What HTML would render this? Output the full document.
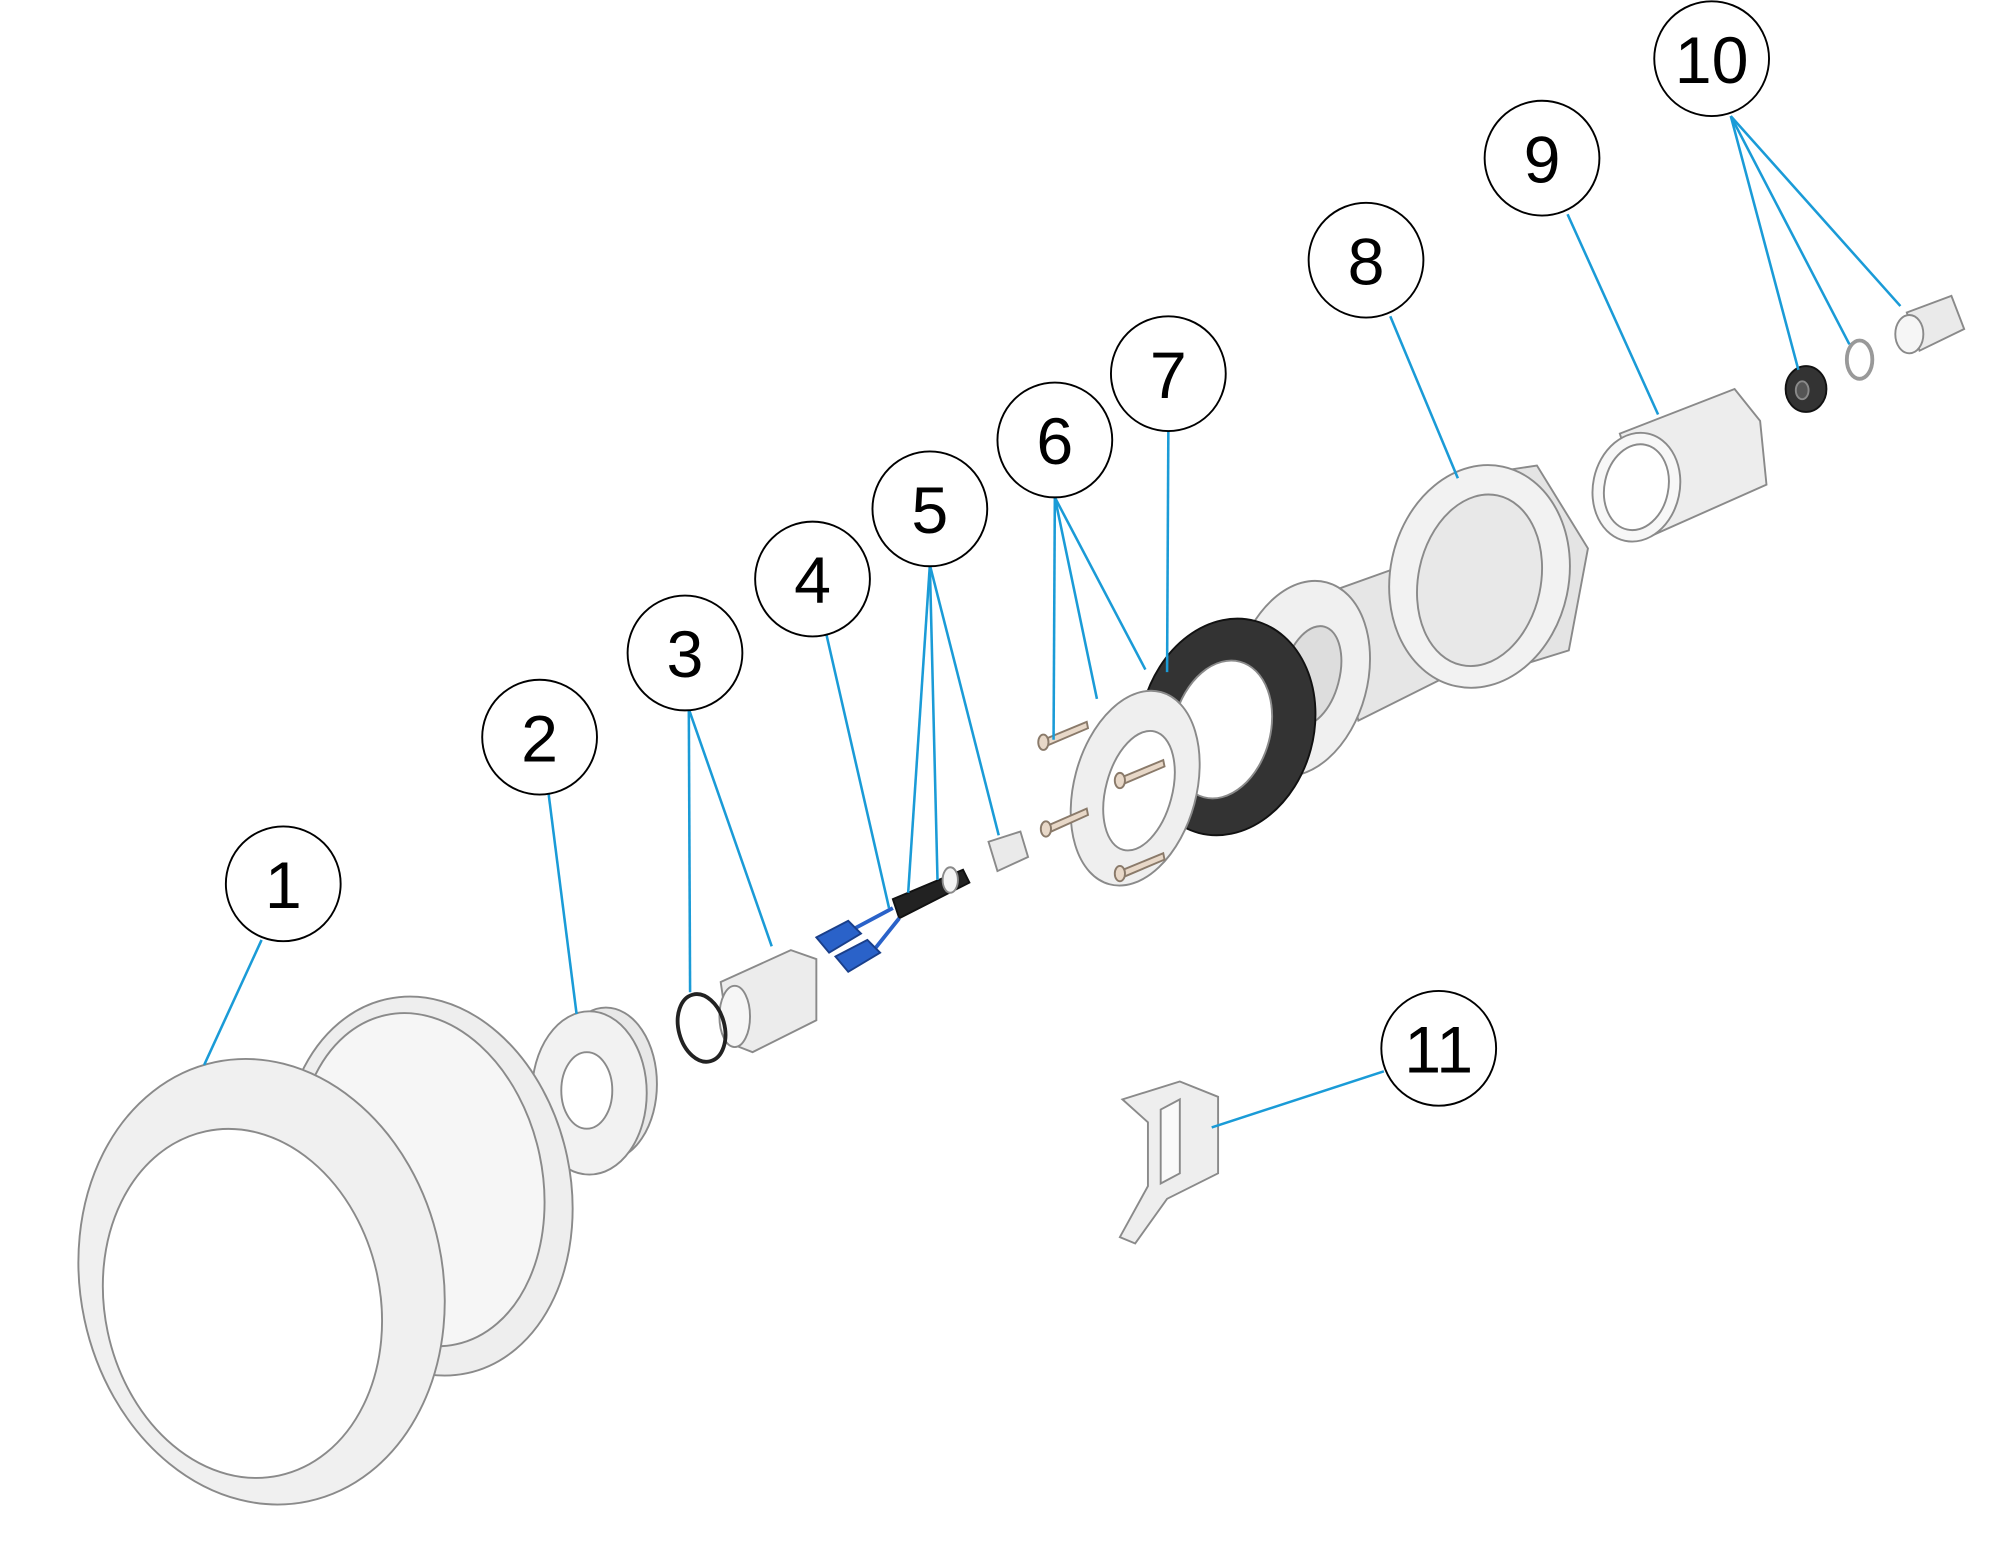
<!DOCTYPE html>
<html><head><meta charset="utf-8"><style>
html,body{margin:0;padding:0;background:#fff;}
svg{display:block;}
text{font-family:"Liberation Sans",Arial,sans-serif;font-size:52px;fill:#000;text-anchor:middle;}
</style></head><body>
<svg width="2000" height="1547" viewBox="0 0 1568 1213" xmlns="http://www.w3.org/2000/svg">
<rect width="1568" height="1213" fill="#fff"/>
<g stroke="#8a8a8a" stroke-width="1.5">
<!-- part 10 -->
<path d="M1495 245 L1530 232 L1540 258 L1505 275 Z" fill="#eaeaea"/>
<ellipse cx="1497" cy="262" rx="11" ry="15" fill="#f6f6f6"/>
<ellipse cx="1458" cy="282" rx="10" ry="15" fill="none" stroke="#999" stroke-width="3"/>
<ellipse cx="1416" cy="305" rx="16" ry="18" fill="#333" stroke="#111"/>
<ellipse cx="1413" cy="306" rx="5" ry="7" fill="#555"/>
<!-- part 9 pipe -->
<path d="M1270 340 L1360 305 L1380 330 L1385 380 L1295 420 Z" fill="#ededed"/>
<ellipse cx="1283" cy="382" rx="34" ry="43" transform="rotate(12 1283 382)" fill="#f7f7f7"/>
<ellipse cx="1283" cy="382" rx="25" ry="34" transform="rotate(12 1283 382)" fill="#fff"/>
<!-- threaded body -->
<path d="M1040 465 L1110 440 L1135 530 L1065 565 Z" fill="#e6e6e6"/>
<!-- part 8 nut -->
<path d="M1140 375 L1205 365 L1245 430 L1230 510 L1165 530 Z" fill="#e4e4e4"/>
<ellipse cx="1160" cy="452" rx="70" ry="88" transform="rotate(12 1160 452)" fill="#f2f2f2"/>
<ellipse cx="1160" cy="455" rx="48" ry="68" transform="rotate(12 1160 455)" fill="#e8e8e8"/>
<!-- flange -->
<ellipse cx="1020" cy="532" rx="52" ry="78" transform="rotate(15 1020 532)" fill="#f0f0f0"/>
<ellipse cx="1028" cy="530" rx="22" ry="40" transform="rotate(15 1028 530)" fill="#ddd"/>
<!-- part 7 gasket -->
<ellipse cx="962" cy="570" rx="68" ry="86" transform="rotate(15 962 570)" fill="#333" stroke="#111"/>
<ellipse cx="958" cy="572" rx="38" ry="55" transform="rotate(15 958 572)" fill="#fff"/>
<!-- part 6 flange -->
<ellipse cx="890" cy="618" rx="48" ry="78" transform="rotate(15 890 618)" fill="#efefef"/>
<ellipse cx="893" cy="620" rx="26" ry="48" transform="rotate(15 893 620)" fill="#fff"/>
<!-- screws -->
<g fill="#e8d8c8" stroke="#8a7a6a">
<path d="M818 580 L852 566 L853 571 L820 585 Z"/><ellipse cx="818" cy="582" rx="4" ry="6"/>
<path d="M820 648 L852 634 L853 639 L822 653 Z"/><ellipse cx="820" cy="650" rx="4" ry="6"/>
<path d="M878 610 L912 596 L913 601 L880 615 Z"/><ellipse cx="878" cy="612" rx="4" ry="6"/>
<path d="M878 683 L912 669 L913 674 L880 688 Z"/><ellipse cx="878" cy="685" rx="4" ry="6"/>
</g>
<!-- part 5 -->
<path d="M775 660 L800 652 L806 672 L782 683 Z" fill="#eaeaea"/>
<path d="M700 705 L755 682 L760 692 L705 720 Z" fill="#222" stroke="#111"/>
<ellipse cx="745" cy="690" rx="6" ry="10" fill="#f4f4f4"/>
<!-- part 4 connectors -->
<path d="M670 728 L700 712 M685 745 L705 720" stroke="#2a62c9" stroke-width="3"/>
<path d="M640 735 L665 722 L675 732 L650 747 Z" fill="#2a62c9" stroke="#1a3f8a"/>
<path d="M655 750 L680 737 L690 747 L665 762 Z" fill="#2a62c9" stroke="#1a3f8a"/>
<!-- part 3 -->
<path d="M565 770 L620 745 L640 752 L640 800 L590 825 L572 818 Z" fill="#ececec"/>
<ellipse cx="576" cy="797" rx="12" ry="24" fill="#f6f6f6"/>
<ellipse cx="550" cy="806" rx="18" ry="27" transform="rotate(-15 550 806)" fill="none" stroke="#222" stroke-width="3"/>
<!-- part 2 -->
<ellipse cx="475" cy="850" rx="40" ry="60" fill="#e8e8e8"/>
<ellipse cx="462" cy="857" rx="45" ry="64" fill="#f2f2f2"/>
<ellipse cx="460" cy="855" rx="20" ry="30" fill="#fff"/>
<!-- part 1 lamp body -->
<ellipse cx="335" cy="930" rx="112" ry="150" transform="rotate(-12 335 930)" fill="#eeeeee"/>
<ellipse cx="330" cy="925" rx="95" ry="132" transform="rotate(-12 330 925)" fill="#f6f6f6"/>
<ellipse cx="205" cy="1005" rx="142" ry="176" transform="rotate(-12 205 1005)" fill="#f0f0f0"/>
<ellipse cx="190" cy="1022" rx="108" ry="138" transform="rotate(-12 190 1022)" fill="#fff"/>
<!-- part 11 clip -->
<path d="M880 862 L925 848 L955 860 L955 920 L915 940 L890 975 L878 970 L900 930 L900 880 Z" fill="#eeeeee"/>
<path d="M910 870 L925 862 L925 920 L910 928 Z" fill="#fafafa"/>
</g>
<g stroke="#1a9bd7" stroke-width="2" fill="none">
<line x1="205" y1="737" x2="160" y2="835"/>
<line x1="430" y1="622" x2="452" y2="795"/>
<line x1="540" y1="556" x2="541" y2="778"/>
<line x1="540" y1="556" x2="605" y2="742"/>
<line x1="648" y1="498" x2="697" y2="712"/>
<line x1="729" y1="443" x2="712" y2="700"/>
<line x1="729" y1="443" x2="735" y2="690"/>
<line x1="729" y1="443" x2="783" y2="655"/>
<line x1="827" y1="390" x2="826" y2="580"/>
<line x1="827" y1="390" x2="860" y2="548"/>
<line x1="827" y1="390" x2="898" y2="525"/>
<line x1="916" y1="338" x2="915" y2="527"/>
<line x1="1090" y1="248" x2="1143" y2="375"/>
<line x1="1229" y1="168" x2="1300" y2="325"/>
<line x1="1357" y1="91" x2="1410" y2="290"/>
<line x1="1357" y1="91" x2="1450" y2="270"/>
<line x1="1357" y1="91" x2="1490" y2="240"/>
<line x1="1085" y1="840" x2="950" y2="884"/>
</g>
<g fill="#fff" stroke="#000" stroke-width="1.5">
<circle cx="222" cy="693" r="45"/><circle cx="423" cy="578" r="45"/>
<circle cx="537" cy="512" r="45"/><circle cx="637" cy="454" r="45"/>
<circle cx="729" cy="399" r="45"/><circle cx="827" cy="345" r="45"/>
<circle cx="916" cy="293" r="45"/><circle cx="1071" cy="204" r="45"/>
<circle cx="1209" cy="124" r="45"/><circle cx="1342" cy="46" r="45"/>
<circle cx="1128" cy="822" r="45"/>
</g>
<text x="222" y="712">1</text><text x="423" y="597">2</text>
<text x="537" y="531">3</text><text x="637" y="473">4</text>
<text x="729" y="418">5</text><text x="827" y="364">6</text>
<text x="916" y="312">7</text><text x="1071" y="223">8</text>
<text x="1209" y="143">9</text><text x="1342" y="65">10</text>
<text x="1128" y="841">11</text>
</svg>
</body></html>
